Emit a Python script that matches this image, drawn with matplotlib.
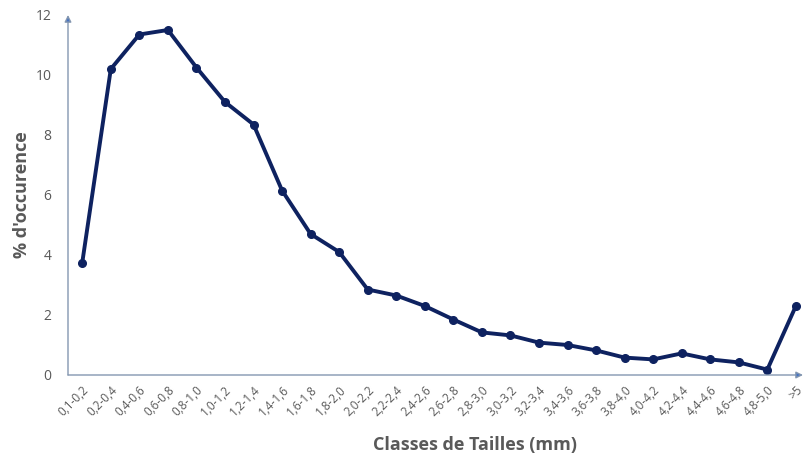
import matplotlib
matplotlib.use("Agg")
import matplotlib.pyplot as plt

plt.rcParams['font.family'] = ['Open Sans', 'DejaVu Sans']

classes = ["0,1-0,2", "0,2-0,4", "0,4-0,6", "0,6-0,8", "0,8-1,0", "1,0-1,2",
           "1,2-1,4", "1,4-1,6", "1,6-1,8", "1,8-2,0", "2,0-2,2", "2,2-2,4",
           "2,4-2,6", "2,6-2,8", "2,8-3,0", "3,0-3,2", "3,2-3,4", "3,4-3,6",
           "3,6-3,8", "3,8-4,0", "4,0-4,2", "4,2-4,4", "4,4-4,6", "4,6-4,8",
           "4,8-5,0", ">5"]
occurence = [3.75, 10.2, 11.35, 11.5, 10.25, 9.1, 8.35, 6.15, 4.7, 4.1,
             2.85, 2.65, 2.3, 1.85, 1.42, 1.32, 1.08, 1.0, 0.82, 0.58,
             0.52, 0.72, 0.52, 0.42, 0.18, 2.3]
y_ticks = [0, 2, 4, 6, 8, 10, 12]

NAVY = "#0e2260"
AXIS = "#8497b0"
ARROW = "#4472c4"
GREY = "#595959"

fig = plt.figure(figsize=(8.06, 4.63), dpi=100)
ax = fig.add_axes([68 / 806, 1 - 375 / 463, 735 / 806, 360 / 463])

x = list(range(len(classes)))
ax.plot(x, occurence, color=NAVY, lw=2.8, marker='o', ms=5.5,
        solid_joinstyle='round', zorder=3)

ax.set_xlim(-0.5, len(classes) - 1 + 0.25)
ax.set_ylim(0, 12)
ax.set_yticks(y_ticks)
ax.set_xticks(x)
ax.set_xticklabels(classes, rotation=45, ha='right', rotation_mode='anchor',
                   fontsize=8.5, color=GREY)
ax.tick_params(axis='y', labelsize=10, colors=GREY, length=0, pad=12)
ax.tick_params(axis='x', length=0, pad=6)

for s in ax.spines.values():
    s.set_visible(False)

# axes drawn as arrows
ax.annotate('', xy=(1.0, 0), xytext=(0, 0), xycoords='axes fraction',
            arrowprops=dict(arrowstyle='-|>', color=AXIS, lw=1.0,
                            mutation_scale=10, shrinkA=0, shrinkB=0,
                            fc=ARROW, ec=AXIS))
ax.annotate('', xy=(0, 1.0), xytext=(0, 0), xycoords='axes fraction',
            arrowprops=dict(arrowstyle='-|>', color=AXIS, lw=1.0,
                            mutation_scale=10, shrinkA=0, shrinkB=0,
                            fc=ARROW, ec=AXIS))

ax.set_ylabel("% d'occurence", fontsize=13, fontweight='bold', color=GREY)
ax.yaxis.set_label_coords(-0.05, 0.5)
ax.set_xlabel("Classes de Tailles (mm)", fontsize=13, fontweight='bold',
              color=GREY)
ax.xaxis.set_label_coords(0.554, -0.17)

fig.savefig("out.png", dpi=100)
